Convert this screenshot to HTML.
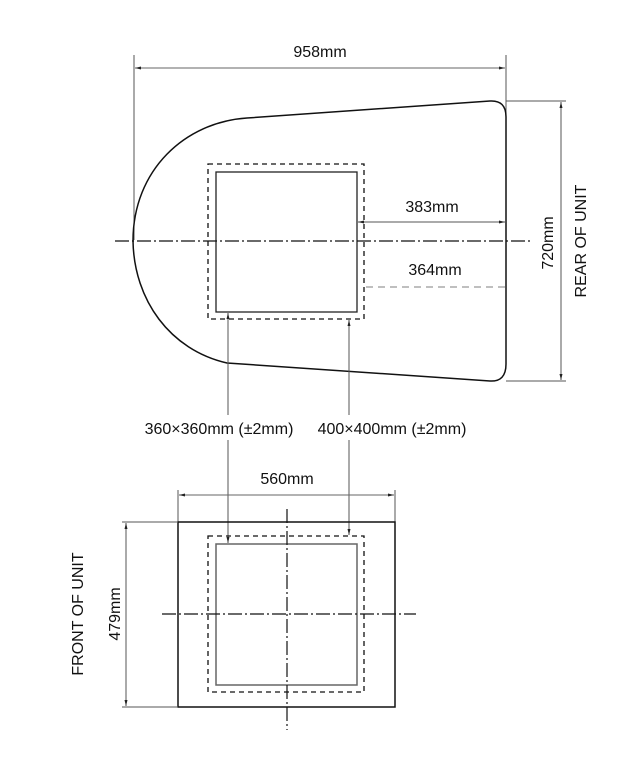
<!DOCTYPE html>
<html><head><style>
html,body{margin:0;padding:0;background:#fff;}
svg{display:block;}
text{font-family:"Liberation Sans",Arial,sans-serif;font-size:16px;fill:#111;}
</style></head><body>
<svg width="640" height="766" viewBox="0 0 640 766" xmlns="http://www.w3.org/2000/svg">
<defs>
<marker id="a" markerWidth="6" markerHeight="6" refX="6" refY="3" orient="auto" markerUnits="userSpaceOnUse"><path d="M0,1.5 L6,3 L0,4.5z" fill="#222"/></marker>
<marker id="b" markerWidth="6" markerHeight="6" refX="0" refY="3" orient="auto" markerUnits="userSpaceOnUse"><path d="M6,1.5 L0,3 L6,4.5z" fill="#222"/></marker>
</defs>
<g fill="none" stroke-linecap="butt">
<line x1="134" y1="55" x2="134" y2="240" stroke="#555" stroke-width="1"/>
<line x1="506" y1="55" x2="506" y2="118" stroke="#555" stroke-width="1"/>
<line x1="135" y1="68" x2="505" y2="68" stroke="#666" stroke-width="1" marker-start="url(#b)" marker-end="url(#a)"/>
<path d="M247,118 L490,101 Q506,100 506,117 L506,364 Q506,382 490,381 L227,363 C170,350 134,300 133,241 C133,170 185,122 247,118 Z" stroke="#111" stroke-width="1.5"/>
<rect x="208" y="164" width="156" height="155" stroke="#111" stroke-width="1.3" stroke-dasharray="5,4"/>
<rect x="216" y="172" width="141" height="140" stroke="#222" stroke-width="1.3"/>
<line x1="115" y1="241" x2="532" y2="241" stroke="#111" stroke-width="1.2" stroke-dasharray="14,3,2,3"/>
<line x1="358" y1="222" x2="505" y2="222" stroke="#555" stroke-width="1" marker-start="url(#b)" marker-end="url(#a)"/>
<line x1="366" y1="287" x2="505" y2="287" stroke="#999" stroke-width="1.2" stroke-dasharray="7,5"/>
<line x1="506" y1="101" x2="566" y2="101" stroke="#555" stroke-width="1"/>
<line x1="506" y1="381" x2="566" y2="381" stroke="#555" stroke-width="1"/>
<line x1="561" y1="102" x2="561" y2="380" stroke="#555" stroke-width="1" marker-start="url(#b)" marker-end="url(#a)"/>
<line x1="228" y1="313" x2="228" y2="415" stroke="#555" stroke-width="1" marker-start="url(#b)"/>
<line x1="349" y1="320" x2="349" y2="415" stroke="#555" stroke-width="1" marker-start="url(#b)"/>
<line x1="228" y1="440" x2="228" y2="543" stroke="#555" stroke-width="1" marker-end="url(#a)"/>
<line x1="349" y1="440" x2="349" y2="535" stroke="#555" stroke-width="1" marker-end="url(#a)"/>
<line x1="178" y1="490" x2="178" y2="522" stroke="#555" stroke-width="1"/>
<line x1="395" y1="490" x2="395" y2="522" stroke="#555" stroke-width="1"/>
<line x1="179" y1="495" x2="394" y2="495" stroke="#666" stroke-width="1" marker-start="url(#b)" marker-end="url(#a)"/>
<rect x="178" y="522" width="217" height="185" stroke="#111" stroke-width="1.5"/>
<rect x="208" y="536" width="156" height="156" stroke="#111" stroke-width="1.3" stroke-dasharray="5,4"/>
<rect x="216" y="544" width="141" height="141" stroke="#666" stroke-width="1.5"/>
<line x1="287" y1="509" x2="287" y2="730" stroke="#111" stroke-width="1.2" stroke-dasharray="14,3,2,3"/>
<line x1="162" y1="614" x2="416" y2="614" stroke="#111" stroke-width="1.2" stroke-dasharray="14,3,2,3"/>
<line x1="122" y1="522" x2="178" y2="522" stroke="#555" stroke-width="1"/>
<line x1="122" y1="707" x2="178" y2="707" stroke="#555" stroke-width="1"/>
<line x1="126" y1="523" x2="126" y2="706" stroke="#555" stroke-width="1" marker-start="url(#b)" marker-end="url(#a)"/>
</g>
<text x="320" y="57" text-anchor="middle">958mm</text>
<text x="432" y="212" text-anchor="middle">383mm</text>
<text x="435" y="275" text-anchor="middle">364mm</text>
<text transform="translate(553,243) rotate(-90)" text-anchor="middle">720mm</text>
<text transform="translate(586,241) rotate(-90)" text-anchor="middle">REAR OF UNIT</text>
<text x="219" y="434" text-anchor="middle">360×360mm (±2mm)</text>
<text x="392" y="434" text-anchor="middle">400×400mm (±2mm)</text>
<text x="287" y="484" text-anchor="middle">560mm</text>
<text transform="translate(120,614) rotate(-90)" text-anchor="middle">479mm</text>
<text transform="translate(83,614) rotate(-90)" text-anchor="middle">FRONT OF UNIT</text>
</svg>
</body></html>
